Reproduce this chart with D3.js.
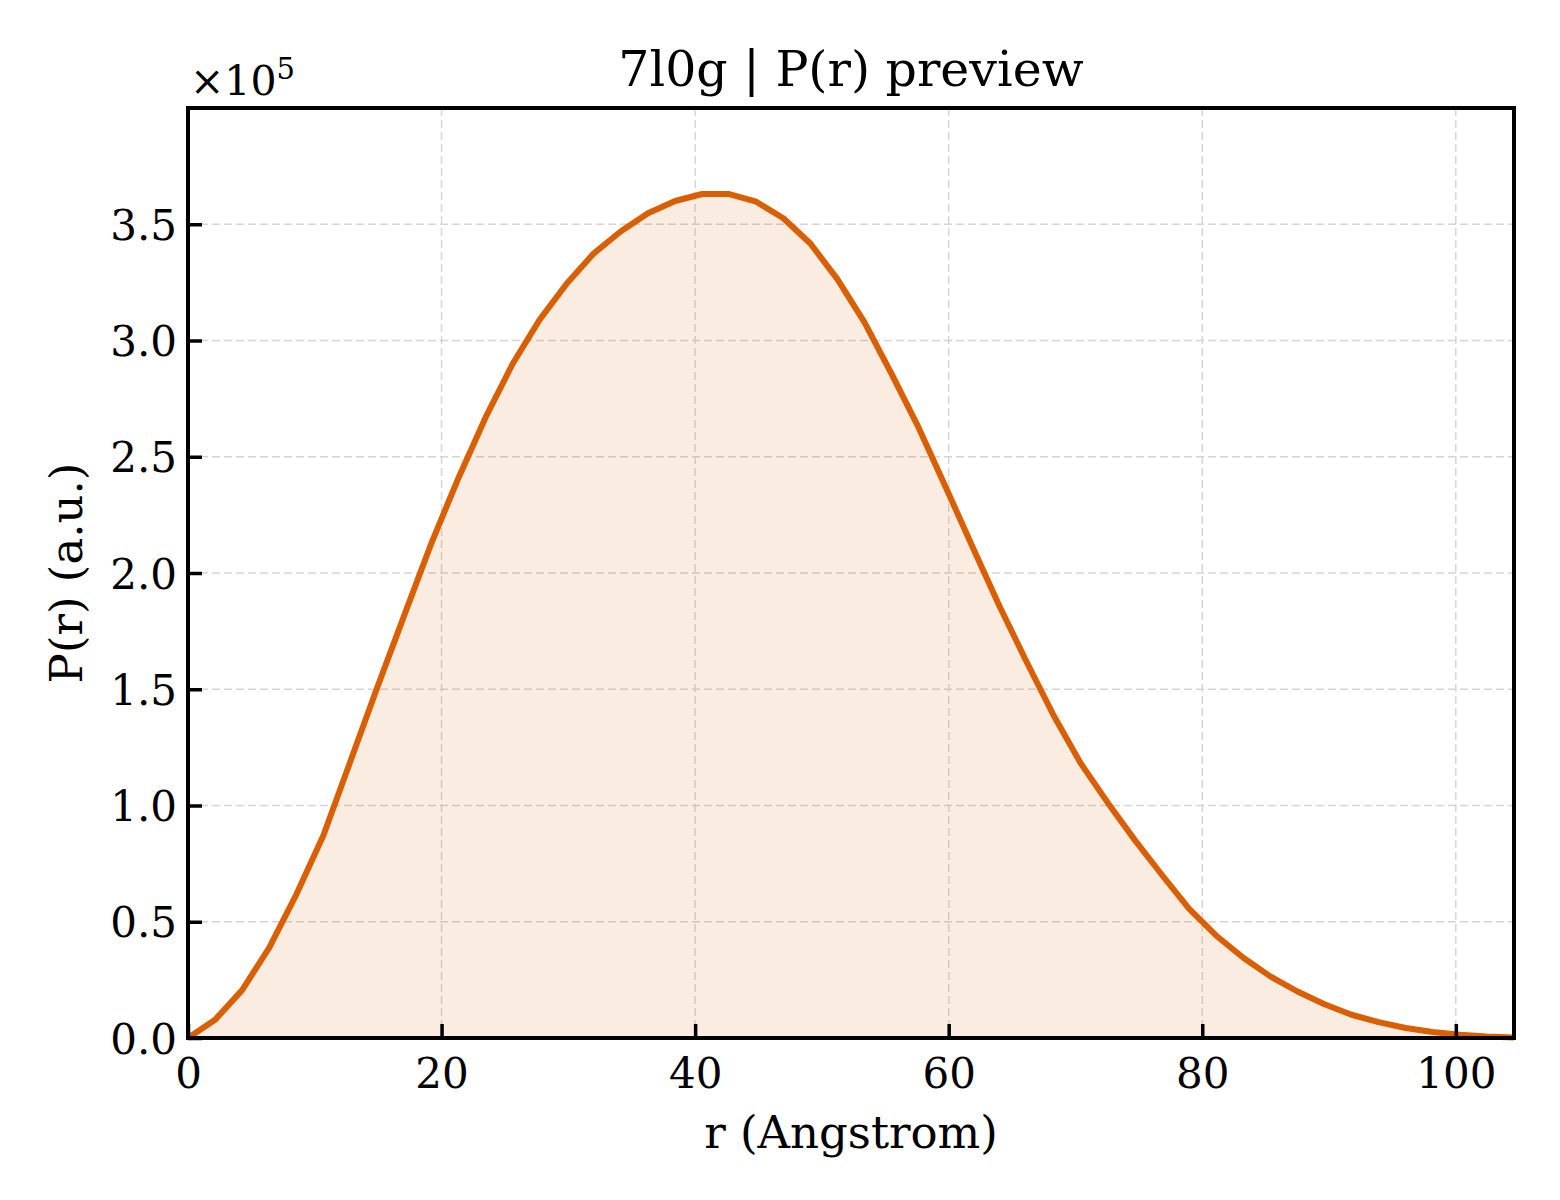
<!DOCTYPE html>
<html>
<head>
<meta charset="utf-8">
<script src="https://cdn.jsdelivr.net/npm/d3@7"></script>
<style>
  html, body { margin: 0; padding: 0; background: #fff; }
  text { font-family: "DejaVu Serif", serif; fill: #000; }
</style>
</head>
<body>
<div id="chart"></div>
<script>
// r values (Angstrom)
const rValues = [0, 2.13, 4.27, 6.40, 8.54, 10.67, 12.81, 14.94, 17.07, 19.21,
  21.34, 23.48, 25.61, 27.74, 29.88, 32.01, 34.15, 36.28, 38.42, 40.55,
  42.69, 44.82, 46.96, 49.09, 51.22, 53.36, 55.49, 57.63, 59.76, 61.90,
  64.03, 66.17, 68.30, 70.43, 72.57, 74.70, 76.84, 78.97, 81.11, 83.24,
  85.37, 87.51, 89.64, 91.78, 93.91, 96.05, 98.18, 100.32, 102.45, 104.59];

// P(r) in units of 1e5
const prValues = [0, 0.078, 0.206, 0.388, 0.617, 0.87, 1.19, 1.51, 1.82, 2.13,
  2.41, 2.67, 2.90, 3.09, 3.245, 3.375, 3.47, 3.547, 3.60, 3.63,
  3.63, 3.597, 3.526, 3.417, 3.264, 3.078, 2.857, 2.625, 2.37, 2.11,
  1.855, 1.615, 1.385, 1.18, 1.01, 0.85, 0.70, 0.555, 0.44, 0.345,
  0.265, 0.20, 0.145, 0.10, 0.068, 0.043, 0.026, 0.014, 0.006, 0.002];

const xTicks = [0, 20, 40, 60, 80, 100];
const yTicks = [0, 0.5, 1.0, 1.5, 2.0, 2.5, 3.0, 3.5];

const width = 1560, height = 1200;
const plot = { left: 188, top: 108, right: 1514, bottom: 1038 };
const lineColor = '#d95f02';

const data = rValues.map((r, i) => ({ r: r, p: prValues[i] }));

const svg = d3.select('#chart')
  .append('svg')
  .attr('width', width)
  .attr('height', height);

const x = d3.scaleLinear().domain([0, 104.59]).range([plot.left, plot.right]);
const y = d3.scaleLinear().domain([0, 4.0]).range([plot.bottom, plot.top]);

// grid
const grid = svg.append('g')
  .attr('stroke', '#d4d4d4')
  .attr('stroke-width', 1.4)
  .attr('stroke-dasharray', '8,4');
grid.selectAll('line.vx')
  .data(xTicks.filter(d => d > 0))
  .join('line')
  .attr('x1', d => x(d)).attr('x2', d => x(d))
  .attr('y1', plot.top).attr('y2', plot.bottom);
grid.selectAll('line.hy')
  .data(yTicks.filter(d => d > 0))
  .join('line')
  .attr('x1', plot.left).attr('x2', plot.right)
  .attr('y1', d => y(d)).attr('y2', d => y(d));

// filled area + line
const area = d3.area()
  .x(d => x(d.r))
  .y0(y(0))
  .y1(d => y(d.p));
svg.append('path')
  .datum(data)
  .attr('d', area)
  .attr('fill', lineColor)
  .attr('fill-opacity', 0.12);

const line = d3.line()
  .x(d => x(d.r))
  .y(d => y(d.p));
svg.append('path')
  .datum(data)
  .attr('d', line)
  .attr('fill', 'none')
  .attr('stroke', lineColor)
  .attr('stroke-width', 6)
  .attr('stroke-linejoin', 'round');

// axes, ticks pointing inward
const xAxis = d3.axisBottom(x)
  .tickValues(xTicks)
  .tickSize(-14)
  .tickPadding(20)
  .tickFormat(d3.format('d'));
const gx = svg.append('g')
  .attr('transform', `translate(0,${plot.bottom})`)
  .call(xAxis);

const yAxis = d3.axisLeft(y)
  .tickValues(yTicks)
  .tickSize(-14)
  .tickPadding(11)
  .tickFormat(d3.format('.1f'));
const gy = svg.append('g')
  .attr('transform', `translate(${plot.left},0)`)
  .call(yAxis);

[gx, gy].forEach(g => {
  g.select('.domain').remove();
  g.selectAll('.tick line').attr('stroke', '#000').attr('stroke-width', 3.5);
  g.selectAll('.tick text')
    .attr('font-family', '"DejaVu Serif", serif')
    .attr('font-size', 42)
    .attr('fill', '#000');
});
gy.selectAll('.tick text').attr('dy', '0.36em');

// frame
svg.append('rect')
  .attr('x', plot.left)
  .attr('y', plot.top)
  .attr('width', plot.right - plot.left)
  .attr('height', plot.bottom - plot.top)
  .attr('fill', 'none')
  .attr('stroke', '#000')
  .attr('stroke-width', 4);

// offset text
const offset = svg.append('text')
  .attr('x', plot.left + 2)
  .attr('y', 95)
  .attr('font-size', 41);
offset.append('tspan').text('×10');
offset.append('tspan')
  .attr('font-size', 29)
  .attr('dy', -16)
  .text('5');

// title and labels
svg.append('text')
  .attr('x', (plot.left + plot.right) / 2)
  .attr('y', 86)
  .attr('text-anchor', 'middle')
  .attr('font-size', 49)
  .text('7l0g | P(r) preview');

svg.append('text')
  .attr('x', (plot.left + plot.right) / 2)
  .attr('y', 1148)
  .attr('text-anchor', 'middle')
  .attr('font-size', 45)
  .text('r (Angstrom)');

svg.append('text')
  .attr('transform', `translate(82,${(plot.top + plot.bottom) / 2}) rotate(-90)`)
  .attr('text-anchor', 'middle')
  .attr('font-size', 45)
  .text('P(r) (a.u.)');
</script>
</body>
</html>
